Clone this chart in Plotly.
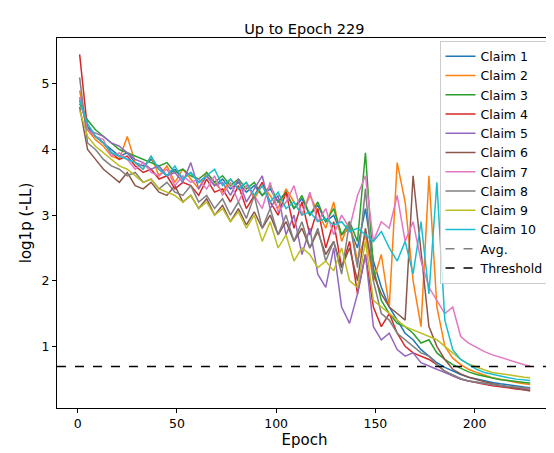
import plotly.graph_objects as go

epochs = [1,5,9,13,17,21,25,29,33,37,41,45,49,53,57,61,65,69,73,77,81,85,89,93,97,101,105,109,113,117,
          121,125,129,133,137,141,145,149,153,157,161,165,169,173,177,181,185,189,193,197,201,205,209,213,217,221,225,228]

claim1 = [4.75,4.35,4.2,4.1,4.0,3.9,3.95,3.8,3.75,3.85, 3.7,3.6,3.7,3.55,3.65,3.5,3.6,3.45,3.55,3.4,
          3.5,3.35,3.45,3.3,3.4,3.2,3.35,3.1,3.25,3.0, 3.15,2.9,3.0,2.7,2.8,2.5,3.1,2.3,1.9,1.6,
          1.4,1.2,1.1,0.95,0.85,0.75,0.68,0.62,0.57,0.53, 0.5,0.47,0.45,0.43,0.41,0.4,0.38,0.37]
claim2 = [4.9,4.3,4.15,4.05,3.9,3.85,4.2,3.8,3.7,3.9, 3.6,3.75,3.5,3.7,3.55,3.4,3.65,3.5,3.35,3.55,
          3.4,3.5,3.25,3.45,3.3,3.1,3.4,3.2,3.0,3.3, 3.05,2.8,3.2,2.6,2.9,2.3,2.7,2.0,2.4,1.6,
          3.8,3.2,2.0,1.3,3.6,1.6,1.0,0.82,0.72,0.65, 0.6,0.56,0.52,0.5,0.47,0.45,0.43,0.42]
claim3 = [4.7,4.45,4.3,4.2,4.1,4.0,3.95,3.9,3.85,3.8, 3.75,3.8,3.65,3.7,3.6,3.55,3.65,3.5,3.6,3.45,
          3.55,3.4,3.5,3.3,3.45,3.2,3.35,3.1,3.3,3.0, 3.2,2.9,3.1,2.7,2.9,2.6,3.95,2.2,1.7,1.5,
          1.35,1.3,1.2,1.05,1.1,0.9,0.8,0.72,0.66,0.61, 0.57,0.54,0.51,0.49,0.48,0.46,0.45,0.44]
claim4 = [5.45,4.3,4.2,4.1,3.95,3.85,3.9,3.75,3.65,3.7, 3.55,3.6,3.4,3.5,3.45,3.3,3.55,3.35,3.4,3.2,
          3.45,3.1,3.3,3.5,3.2,3.0,3.35,2.8,3.2,2.7, 3.1,2.5,2.9,2.2,2.6,1.8,2.4,1.6,1.3,1.5,
          1.2,1.0,0.9,0.85,0.8,0.72,0.62,0.55,0.5,0.47, 0.44,0.42,0.4,0.38,0.36,0.35,0.34,0.33]
claim5 = [4.8,4.3,4.25,4.2,4.1,4.05,3.95,3.85,3.8,3.7, 3.75,3.6,3.65,3.5,3.8,3.4,3.6,3.45,3.5,3.3,
          3.55,3.2,3.4,3.6,3.1,3.3,2.7,3.0,2.4,2.8, 2.1,1.9,2.5,1.6,1.35,1.8,2.4,1.3,1.1,1.2,
          0.95,0.85,0.9,0.75,0.7,0.65,0.6,0.55,0.5,0.47, 0.45,0.43,0.41,0.39,0.38,0.37,0.36,0.35]
claim6 = [4.65,4.0,3.85,3.7,3.6,3.5,3.65,3.45,3.4,3.5, 3.35,3.3,3.45,3.2,3.3,3.1,3.25,3.0,3.15,2.9,
          3.1,2.85,3.05,2.8,3.0,2.7,2.9,2.6,2.8,2.5, 2.75,2.4,2.6,2.2,2.5,2.0,2.8,2.1,1.8,1.6,
          1.5,1.4,3.6,2.5,1.3,1.0,0.8,0.65,0.58,0.53, 0.49,0.46,0.43,0.4,0.38,0.36,0.34,0.32]
claim7 = [4.8,4.3,4.2,4.15,3.9,3.95,3.85,3.7,3.8,3.65, 3.6,3.7,3.45,3.6,3.5,3.55,3.4,3.6,3.3,3.5,
          3.2,3.45,3.3,3.1,3.5,3.05,3.2,3.45,3.0,3.35, 2.9,3.1,2.7,3.0,2.8,3.3,3.6,2.6,2.9,2.8,
          3.3,2.6,2.9,2.3,1.9,1.7,1.5,1.6,1.15,1.05, 0.98,0.92,0.87,0.83,0.79,0.76,0.72,0.7]
claim8 = [5.1,4.1,4.0,3.85,3.75,3.7,3.6,3.65,3.5,3.55, 3.4,3.5,3.35,3.3,3.45,3.2,3.3,3.1,3.25,3.0,
          3.2,2.95,3.3,2.8,3.1,2.7,3.0,2.6,2.9,2.5, 2.8,2.3,2.6,2.1,2.9,2.2,3.4,2.0,1.5,1.4,
          1.2,1.1,1.0,0.9,0.85,0.72,0.62,0.56,0.51,0.47, 0.45,0.43,0.41,0.4,0.39,0.38,0.37,0.36]
claim9 = [4.6,4.2,4.05,3.95,3.85,3.75,3.7,3.6,3.5,3.55, 3.4,3.35,3.3,3.2,3.3,3.1,3.2,3.0,3.1,2.9,
          3.05,2.8,3.0,2.6,2.9,2.5,2.7,2.3,2.5,2.4, 2.2,2.3,2.15,2.5,2.0,1.9,2.6,1.7,1.6,1.5,
          1.4,1.3,1.25,1.2,1.15,1.1,1.0,0.9,0.8,0.73, 0.68,0.64,0.6,0.58,0.56,0.54,0.53,0.52]
claim10 = [4.75,4.4,4.2,4.1,3.95,3.9,3.85,3.8,3.7,3.9, 3.7,3.6,3.75,3.55,3.65,3.5,3.6,3.7,3.45,3.55,
           3.4,3.5,3.3,3.45,3.2,3.35,3.1,3.2,3.0,3.05, 2.9,2.95,2.85,2.9,2.75,2.8,2.7,2.6,2.75,2.5,
           2.3,2.6,2.1,2.9,1.8,3.5,1.4,0.95,0.8,0.72, 0.65,0.6,0.57,0.54,0.52,0.5,0.49,0.48]

series = [claim1, claim2, claim3, claim4, claim5, claim6, claim7, claim8, claim9, claim10]
names = [f"Claim {i}" for i in range(1, 11)]
colors = ["#1f77b4", "#ff7f0e", "#2ca02c", "#d62728", "#9467bd",
          "#8c564b", "#e377c2", "#7f7f7f", "#bcbd22", "#17becf"]
threshold = 0.693

fig = go.Figure()
for n, s, c in zip(names, series, colors):
    fig.add_trace(go.Scatter(x=epochs, y=s, mode="lines", name=n, line=dict(color=c, width=1.5)))
fig.add_trace(go.Scatter(x=[None], y=[None], mode="lines", name="Avg.",
                         line=dict(color="gray", width=1.5, dash="dash")))
fig.add_trace(go.Scatter(x=[None], y=[None], mode="lines", name="Threshold",
                         line=dict(color="black", width=1.5, dash="dash")))
fig.add_shape(type="line", xref="paper", x0=0, x1=1, yref="y", y0=threshold, y1=threshold,
              line=dict(color="black", width=1.5, dash="dash"))

axis = dict(showgrid=False, zeroline=False, showline=True, mirror=True, linecolor="black",
            ticks="outside", ticklen=4, tickcolor="black", automargin=False,
            tickfont=dict(size=12.5))
fig.update_layout(
    width=554, height=453, plot_bgcolor="white", paper_bgcolor="white",
    margin=dict(l=49, r=10, t=30, b=53, autoexpand=False),
    font=dict(family="DejaVu Sans", size=12.5, color="black"),
    title=dict(text="Up to Epoch 229", x=0.535, xanchor="center", y=0.965, font=dict(size=14.5)),
    xaxis=dict(axis, range=[-10.4, 239], tickvals=[0, 50, 100, 150, 200],
               title=dict(text="Epoch", standoff=4)),
    yaxis=dict(axis, range=[0.06, 5.70], tickvals=[1, 2, 3, 4, 5],
               title=dict(text="log1p (-LL)", standoff=6)),
    legend=dict(x=0.995, y=0.993, xanchor="right", yanchor="top", bgcolor="rgba(255,255,255,0.8)",
                bordercolor="#cccccc", borderwidth=1, font=dict(size=12.5), tracegroupgap=0,
                itemwidth=30),
    showlegend=True,
)
fig.write_html("out.html")
